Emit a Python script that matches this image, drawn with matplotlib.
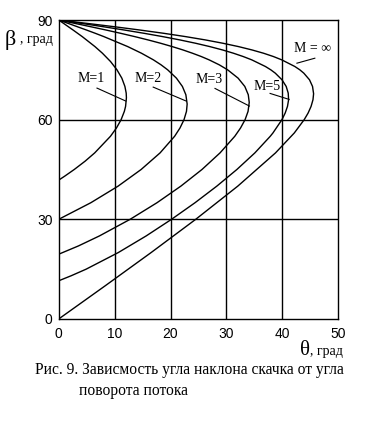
import matplotlib
matplotlib.use("Agg")
import matplotlib.pyplot as plt

plt.rcParams['font.family'] = ['Liberation Serif', 'DejaVu Serif']

# Curves: deflection angle theta (deg) vs shock angle beta (deg)
beta_m1 = [41.8, 43, 45, 47.5, 50, 55, 57.5, 60, 62.5, 64, 66.6, 68, 70, 72.5, 75, 77.5, 80, 82, 85, 87, 89, 90]
theta_m1 = [0, 1.08, 2.78, 4.72, 6.44, 9.26, 10.33, 11.16, 11.74, 11.96, 12.11, 12.07, 11.84, 11.29, 10.42, 9.27, 7.82, 6.48, 4.21, 2.56, 0.86, 0]

beta_m2 = [30, 35, 40, 45, 50, 55, 57.5, 60, 62.5, 64.7, 67.5, 70, 72.5, 75, 76.5, 78, 80, 82, 85, 86, 87, 89, 90]
theta_m2 = [0, 5.75, 10.63, 14.74, 18.13, 20.73, 21.69, 22.41, 22.85, 22.97, 22.74, 22.12, 21.05, 19.49, 18.31, 16.94, 14.80, 12.34, 8.08, 6.54, 4.94, 1.66, 0]

beta_m3 = [19.5, 22, 25, 30, 35, 40, 45, 50, 55, 57.5, 60, 62.5, 65.2, 67.5, 70, 72.5, 75, 76.5, 78, 79, 80, 81, 82, 83, 84, 85, 86, 87, 88, 89, 90]
theta_m3 = [0, 3.54, 7.28, 12.77, 17.58, 21.85, 25.62, 28.85, 31.49, 32.52, 33.33, 33.86, 34.07, 33.90, 33.28, 32.08, 30.21, 28.72, 26.90, 25.50, 23.92, 22.20, 20.29, 18.23, 15.99, 13.60, 11.07, 8.42, 5.67, 2.85, 0]

beta_m5 = [11.5, 13, 15, 20, 25, 30, 35, 40, 45, 50, 55, 56, 60, 62, 64, 66, 68, 70, 72, 74, 75, 76, 78, 79, 80, 81, 82, 83, 84, 85, 86, 87, 88, 89, 90]
theta_m5 = [0, 2.21, 4.91, 10.66, 15.64, 20.17, 24.38, 28.28, 31.86, 35.08, 37.83, 38.31, 39.92, 40.50, 40.91, 41.11, 41.04, 40.68, 39.93, 38.73, 37.93, 36.97, 34.53, 33.00, 31.25, 29.27, 27.01, 24.49, 21.68, 18.60, 15.26, 11.68, 7.90, 3.99, 0]

beta_minf = [0, 10, 20, 30, 40, 50, 56, 60, 62, 64, 66, 67.8, 70, 72, 74, 75, 76, 78, 79, 80, 81, 82, 83, 84, 85, 86, 87, 88, 89, 90]
theta_minf = [0, 8.32, 16.53, 24.50, 32.03, 38.77, 42.13, 43.90, 44.60, 45.13, 45.47, 45.58, 45.39, 44.85, 43.83, 43.12, 42.23, 39.89, 38.40, 36.63, 34.54, 32.14, 29.37, 26.24, 22.69, 18.77, 14.45, 9.84, 4.98, 0]

x_ticks = [0, 10, 20, 30, 40, 50]
y_ticks = [0, 30, 60, 90]

# label text, text position (theta, beta), leader start, leader end
labels = ["M=1", "M=2", "M=3", "M=5", "M = \u221e"]
label_pos = [(3.3, 72.5), (13.5, 72.5), (24.5, 72.0), (34.9, 70.0), (42.0, 81.5)]
leader_from = [(6.85, 69.5), (16.9, 69.8), (27.95, 69.4), (37.8, 67.9), (45.8, 78.5)]
leader_to = [(12.0, 65.6), (22.8, 65.6), (34.1, 64.1), (41.2, 66.1), (42.6, 77.0)]

fig = plt.figure(figsize=(3.71, 4.33), dpi=100)
ax = fig.add_axes([0.1582, 0.2633, 0.7537, 0.6905])

for th, be in [(theta_m1, beta_m1), (theta_m2, beta_m2), (theta_m3, beta_m3),
               (theta_m5, beta_m5), (theta_minf, beta_minf)]:
    ax.plot(th, be, color='black', lw=1.0)

for x in x_ticks[1:-1]:
    ax.axvline(x, color='black', lw=1.0)
for y in y_ticks[1:-1]:
    ax.axhline(y, color='black', lw=1.0)

for txt, pos, p0, p1 in zip(labels, label_pos, leader_from, leader_to):
    ax.text(pos[0], pos[1], txt, fontsize=10, ha='left', va='center')
    ax.plot([p0[0], p1[0]], [p0[1], p1[1]], color='black', lw=0.8)

ax.set_xlim(0, 50)
ax.set_ylim(0, 90)
ax.set_xticks(x_ticks)
ax.set_yticks(y_ticks)
ax.tick_params(length=0, labelsize=10)
ax.tick_params(axis='x', pad=5.5)
ax.tick_params(axis='y', pad=4.5)
for lab in ax.get_xticklabels() + ax.get_yticklabels():
    lab.set_family(['Liberation Sans', 'DejaVu Sans'])
for s in ax.spines.values():
    s.set_linewidth(1.0)
    s.set_color('black')

fig.text(5 / 371, 1 - 40 / 433, "\u03b2", fontsize=16, ha='left', va='center')
fig.text(20 / 371, 1 - 40 / 433, ", град", fontsize=10, ha='left', va='center')
fig.text(300 / 371, 1 - 355 / 433, "\u03b8", fontsize=15, ha='left', va='baseline')
fig.text(310 / 371, 1 - 355 / 433, ", град", fontsize=10, ha='left', va='baseline')
fig.text(35 / 371, 1 - 374 / 433, "Рис. 9. Зависмость угла наклона скачка от угла",
         fontsize=11.2, ha='left', va='baseline')
fig.text(79 / 371, 1 - 395 / 433, "поворота потока", fontsize=11.2, ha='left', va='baseline')

fig.savefig("out.png", dpi=100)
